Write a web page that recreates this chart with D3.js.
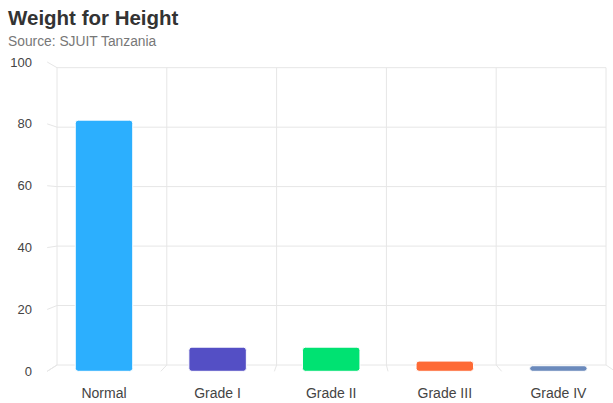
<!DOCTYPE html>
<html>
<head>
<meta charset="utf-8">
<script src="https://cdn.jsdelivr.net/npm/d3@7"></script>
<style>
  html, body { margin: 0; padding: 0; background: #fff; }
  svg { display: block; font-family: "Liberation Sans", Arial, Helvetica, sans-serif; }
</style>
</head>
<body>
<svg id="chart" width="613" height="403"></svg>
<script>
const categories = ["Normal", "Grade I", "Grade II", "Grade III", "Grade IV"];
const values = [81.2, 7.8, 7.8, 3.3, 1.8];
const colors = ["#2caffe", "#544fc5", "#00e272", "#fe6a35", "#6b8abc"];
const yTicks = [0, 20, 40, 60, 80, 100];
const titleText = "Weight for Height";
const subtitleText = "Source: SJUIT Tanzania";

const svg = d3.select("#chart");

// back wall (grid) and front plane (bars, labels) - emulating a shallow 3D view
const xBack = d3.scaleBand().domain(categories).range([57, 606]).padding(0);
const yBack = d3.scaleLinear().domain([0, 100]).range([365, 67.7]);
const xFront = d3.scaleBand().domain(categories).range([47.2, 615.2]).padding(0);
const yFront = d3.scaleLinear().domain([0, 100]).range([371.3, 62]);

const gridColor = "#e6e6e6";
const grid = svg.append("g").attr("fill", "none").attr("stroke", gridColor).attr("stroke-width", 1);

yTicks.forEach(t => {
  grid.append("line")
    .attr("x1", xBack.range()[0]).attr("x2", xBack.range()[1])
    .attr("y1", yBack(t)).attr("y2", yBack(t));
  grid.append("line")
    .attr("x1", xBack.range()[0]).attr("y1", yBack(t))
    .attr("x2", xFront.range()[0]).attr("y2", yFront(t));
});

const boundaries = categories.map(c => xBack(c)).concat([xBack.range()[1]]);
const frontBoundaries = categories.map(c => xFront(c)).concat([xFront.range()[1]]);
boundaries.forEach((bx, i) => {
  grid.append("line")
    .attr("x1", bx).attr("x2", bx)
    .attr("y1", yBack(100)).attr("y2", yBack(0));
  grid.append("line")
    .attr("x1", bx).attr("y1", yBack(0))
    .attr("x2", frontBoundaries[i]).attr("y2", yFront(0));
});

// bars centred in each front band
const barFrac = 0.506;
const barW = xFront.bandwidth() * barFrac;
svg.append("g").selectAll("rect").data(values).join("rect")
  .attr("x", (d, i) => xFront(categories[i]) + (xFront.bandwidth() - barW) / 2)
  .attr("width", barW)
  .attr("y", d => yFront(d))
  .attr("height", d => yFront(0) - yFront(d))
  .attr("rx", 3).attr("ry", 3)
  .attr("fill", (d, i) => colors[i])
  .attr("stroke", "#ffffff")
  .attr("stroke-width", 1);

svg.append("g").selectAll("text").data(yTicks).join("text")
  .attr("x", 32)
  .attr("y", d => yFront(d))
  .attr("dy", "0.35em")
  .attr("text-anchor", "end")
  .attr("font-size", "13px")
  .attr("fill", "#444444")
  .text(d => d);

svg.append("g").selectAll("text").data(categories).join("text")
  .attr("x", c => xFront(c) + xFront.bandwidth() / 2)
  .attr("y", 398)
  .attr("text-anchor", "middle")
  .attr("font-size", "14px")
  .attr("fill", "#444444")
  .text(c => c);

svg.append("text")
  .attr("x", 8).attr("y", 25)
  .attr("font-size", "20.5px")
  .attr("font-weight", "bold")
  .attr("fill", "#333333")
  .text(titleText);
svg.append("text")
  .attr("x", 8).attr("y", 46)
  .attr("font-size", "13.8px")
  .attr("fill", "#777777")
  .text(subtitleText);
</script>
</body>
</html>
